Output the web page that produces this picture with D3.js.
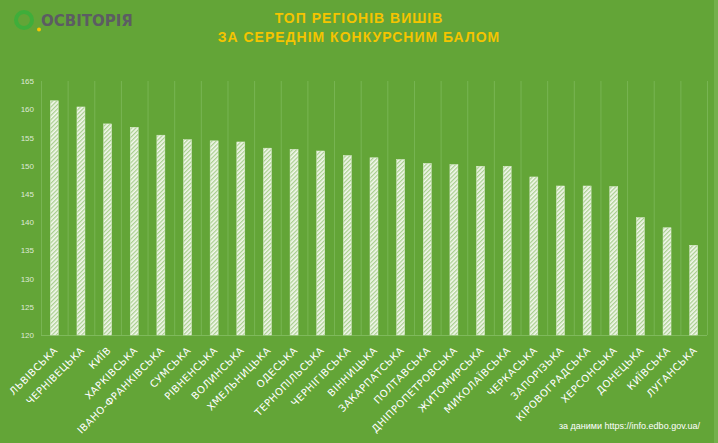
<!DOCTYPE html>
<html><head><meta charset="utf-8">
<script src="https://cdn.jsdelivr.net/npm/d3@7"></script>
<style>
html,body{margin:0;padding:0;background:#63a537;}
svg{display:block;}
</style></head>
<body>
<svg id="chart" width="718" height="443"></svg>
<script>
const regions = ["ЛЬВІВСЬКА","ЧЕРНІВЕЦЬКА","КИЇВ","ХАРКІВСЬКА","ІВАНО-ФРАНКІВСЬКА","СУМСЬКА","РІВНЕНСЬКА","ВОЛИНСЬКА","ХМЕЛЬНИЦЬКА","ОДЕСЬКА","ТЕРНОПІЛЬСЬКА","ЧЕРНІГІВСЬКА","ВІННИЦЬКА","ЗАКАРПАТСЬКА","ПОЛТАВСЬКА","ДНІПРОПЕТРОВСЬКА","ЖИТОМИРСЬКА","МИКОЛАЇВСЬКА","ЧЕРКАСЬКА","ЗАПОРІЗЬКА","КІРОВОГРАДСЬКА","ХЕРСОНСЬКА","ДОНЕЦЬКА","КИЇВСЬКА","ЛУГАНСЬКА"];
const scores = [161.5,160.4,157.4,156.8,155.4,154.6,154.4,154.2,153.1,152.9,152.6,151.8,151.4,151.1,150.4,150.2,149.9,149.9,148.0,146.4,146.4,146.3,140.8,139.0,135.9];
const yTicks = [120,125,130,135,140,145,150,155,160,165];
const titleLines = ["ТОП РЕГІОНІВ ВИШІВ","ЗА СЕРЕДНІМ КОНКУРСНИМ БАЛОМ"];
const sourceText = "за даними https://info.edbo.gov.ua/";
const logoText = "ОСВІТОРІЯ";

const svg = d3.select("#chart");
const W = 718, H = 443;
svg.append("rect").attr("width",W).attr("height",H).attr("fill","#63a537");
svg.append("rect").attr("x",714).attr("y",0).attr("width",4).attr("height",H).attr("fill","#74b04c");

const defs = svg.append("defs");
const pat = defs.append("pattern").attr("id","hatch").attr("patternUnits","userSpaceOnUse")
  .attr("width",3).attr("height",3).attr("patternTransform","rotate(45)");
pat.append("rect").attr("width",3).attr("height",3).attr("fill","#f4f8ee");
pat.append("rect").attr("width",1.3).attr("height",3).attr("fill","#a9cf8f");

const x = d3.scaleBand().domain(regions).range([41,707]).paddingInner(0).paddingOuter(0);
const y = d3.scaleLinear().domain([120,165]).range([335,81]);

// vertical gridlines at category boundaries
const bounds = regions.map(r=>x(r)).concat([x.range()[1]]);
svg.append("g").selectAll("line").data(bounds).join("line")
  .attr("x1",d=>d+0.5).attr("x2",d=>d+0.5).attr("y1",y(165)).attr("y2",y(120))
  .attr("stroke","#78b553").attr("stroke-width",1);
// baseline
svg.append("line").attr("x1",41).attr("x2",707).attr("y1",y(120)+0.5).attr("y2",y(120)+0.5)
  .attr("stroke","#7fb95c");

// y axis labels
const yAxis = d3.axisLeft(y).tickValues(yTicks).tickSize(0).tickPadding(7);
const gy = svg.append("g").attr("transform","translate(41,0)").call(yAxis);
gy.select(".domain").remove();
gy.selectAll("text").attr("fill","#dfe9d6").style("font-family","Liberation Sans, Arial, sans-serif").style("font-size","8px");

// bars
const bw = 8;
svg.append("g").selectAll("rect").data(regions).join("rect")
  .attr("x",(d)=>x(d)+x.bandwidth()/2-bw/2)
  .attr("y",(d,i)=>y(scores[i]))
  .attr("width",bw)
  .attr("height",(d,i)=>y(120)-y(scores[i]))
  .attr("fill","url(#hatch)")
  .attr("stroke","#dfeed2").attr("stroke-width",0.5);

// x labels
svg.append("g").selectAll("text").data(regions).join("text")
  .attr("transform",d=>`translate(${x(d)+x.bandwidth()/2+4},${351}) rotate(-45)`)
  .attr("text-anchor","end")
  .attr("fill","#ffffff")
  .style("font-family","DejaVu Sans, sans-serif")
  .style("font-size","10px").style("letter-spacing","0.5px")
  .text(d=>d);

// title
svg.append("g").selectAll("text").data(titleLines).join("text")
  .attr("x",W/2).attr("y",(d,i)=>23+i*19)
  .attr("text-anchor","middle")
  .attr("fill","#f5c400")
  .style("font-family","Liberation Sans, sans-serif")
  .style("font-weight","bold").style("font-size","14px").style("letter-spacing","1px")
  .text(d=>d);

// logo
svg.append("circle").attr("cx",24).attr("cy",20).attr("r",8).attr("fill","none").attr("stroke","#3fae3a").attr("stroke-width",4);
svg.append("circle").attr("cx",39).attr("cy",29.5).attr("r",2).attr("fill","#f7c600");
svg.append("text").attr("x",41).attr("y",26).attr("fill","#5c5c63")
  .style("font-family","DejaVu Sans, sans-serif").style("font-weight","bold").style("font-size","15px")
  .text(logoText);

// source
svg.append("text").attr("x",700).attr("y",429).attr("text-anchor","end").attr("fill","#ffffff")
  .style("font-family","Liberation Sans, Arial, sans-serif").style("font-size","9px")
  .text(sourceText);
</script>
</body></html>
